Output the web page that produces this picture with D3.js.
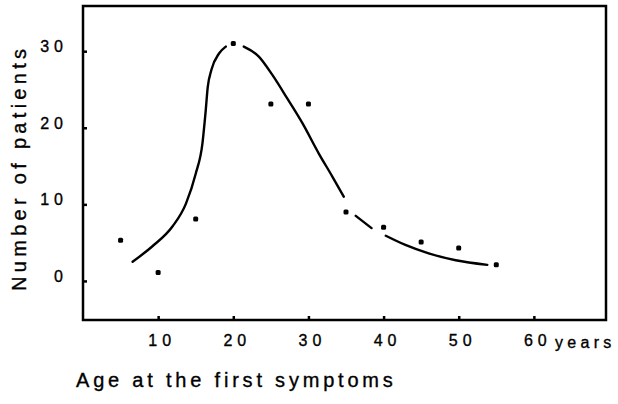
<!DOCTYPE html>
<html>
<head>
<meta charset="utf-8">
<script src="https://cdn.jsdelivr.net/npm/d3@7"></script>
<style>
  body { margin: 0; background: #fff; }
  svg { display: block; font-family: "Liberation Sans", Arial, sans-serif; }
  .lbl { fill: #000; stroke: #000; stroke-width: 0.35; }
</style>
</head>
<body>
<svg width="618" height="404"></svg>
<script>
// observed cases per age group
var ages = [5, 10, 15, 20, 25, 30, 35, 40, 45, 50, 55];
var patients = [5.3, 1.1, 8.1, 31, 23.1, 23.1, 9.0, 7.0, 5.1, 4.3, 2.1];

// hand drawn fitted curve (null = break in the line)
var fitAges = [6.6, 9.2, 11.9, 13.7, 15.0, 15.9, 16.3, 16.6, 17.1, 18.1, 19.0, null,
               21.4, 23.4, 25.2, 27.2, 29.2, 31.4, 33.2, 34.7, null,
               36.3, 38.4, null,
               40.3, 42.9, 46.0, 49.6, 53.8];
var fitValues = [2.5, 4.5, 7.1, 10.1, 14.0, 18.0, 21.9, 25.3, 27.6, 29.7, 30.6, null,
                 30.6, 29.3, 26.9, 23.8, 20.6, 16.6, 13.6, 11.0, null,
                 8.5, 6.9, null,
                 5.9, 4.7, 3.6, 2.7, 2.1];

var xTicks = [10, 20, 30, 40, 50, 60];
var yTicks = [0, 10, 20, 30];

var svg = d3.select("svg"),
    plotL = 83, plotT = 6, plotR = 606, plotB = 320;

var x = d3.scaleLinear().domain([0, 69.6]).range([plotL, plotR]),
    y = d3.scaleLinear().domain([-5.1, 35.9]).range([plotB, plotT]);

// frame
svg.append("rect")
    .attr("x", plotL).attr("y", plotT)
    .attr("width", plotR - plotL).attr("height", plotB - plotT)
    .attr("fill", "none").attr("stroke", "#000").attr("stroke-width", 2.5);

// x axis ticks (inward) + labels
var gx = svg.append("g")
    .attr("transform", "translate(0," + plotB + ")")
    .call(d3.axisBottom(x).tickValues(xTicks).tickSize(-4).tickPadding(15)
      .tickFormat(d3.format("d")));
gx.select(".domain").remove();
gx.selectAll("line").attr("stroke", "#000").attr("stroke-width", 2.5);
gx.selectAll("text")
    .attr("class", "lbl")
    .attr("font-size", 16)
    .attr("letter-spacing", 5)
    .attr("dx", 3.5);

svg.append("text")
    .attr("class", "lbl")
    .attr("x", 555).attr("y", 348)
    .attr("font-size", 16)
    .attr("letter-spacing", 4.3)
    .text("years");

// y axis ticks + labels
var gy = svg.append("g")
    .attr("transform", "translate(" + plotL + ",0)")
    .call(d3.axisLeft(y).tickValues(yTicks).tickSize(-4).tickPadding(15)
      .tickFormat(d3.format("d")));
gy.select(".domain").remove();
gy.selectAll("line").attr("stroke", "#000").attr("stroke-width", 2.5);
gy.selectAll("text")
    .attr("class", "lbl")
    .attr("font-size", 16)
    .attr("letter-spacing", 5)
    .attr("dy", "0.04em");

// axis titles
svg.append("text")
    .attr("class", "lbl")
    .attr("x", 76).attr("y", 387)
    .attr("font-size", 20)
    .attr("letter-spacing", 3.8)
    .text("Age at the first symptoms");

svg.append("text")
    .attr("class", "lbl")
    .attr("transform", "translate(26,291) rotate(-90)")
    .attr("font-size", 20)
    .attr("letter-spacing", 4.3)
    .text("Number of patients");

// fitted curve
var fit = fitAges.map(function(a, i) { return [a, fitValues[i]]; });
var line = d3.line()
    .defined(function(d) { return d[0] != null; })
    .x(function(d) { return x(d[0]); })
    .y(function(d) { return y(d[1]); })
    .curve(d3.curveMonotoneX);

svg.append("path")
    .datum(fit)
    .attr("d", line)
    .attr("fill", "none")
    .attr("stroke", "#000")
    .attr("stroke-width", 2.4)
    .attr("stroke-linecap", "round");

// observed points
svg.selectAll(".dot")
    .data(ages)
  .enter().append("rect")
    .attr("class", "dot")
    .attr("x", function(d) { return x(d) - 2.5; })
    .attr("y", function(d, i) { return y(patients[i]) - 2.5; })
    .attr("width", 5)
    .attr("height", 5)
    .attr("rx", 1.5)
    .attr("fill", "#000");
</script>
</body>
</html>
